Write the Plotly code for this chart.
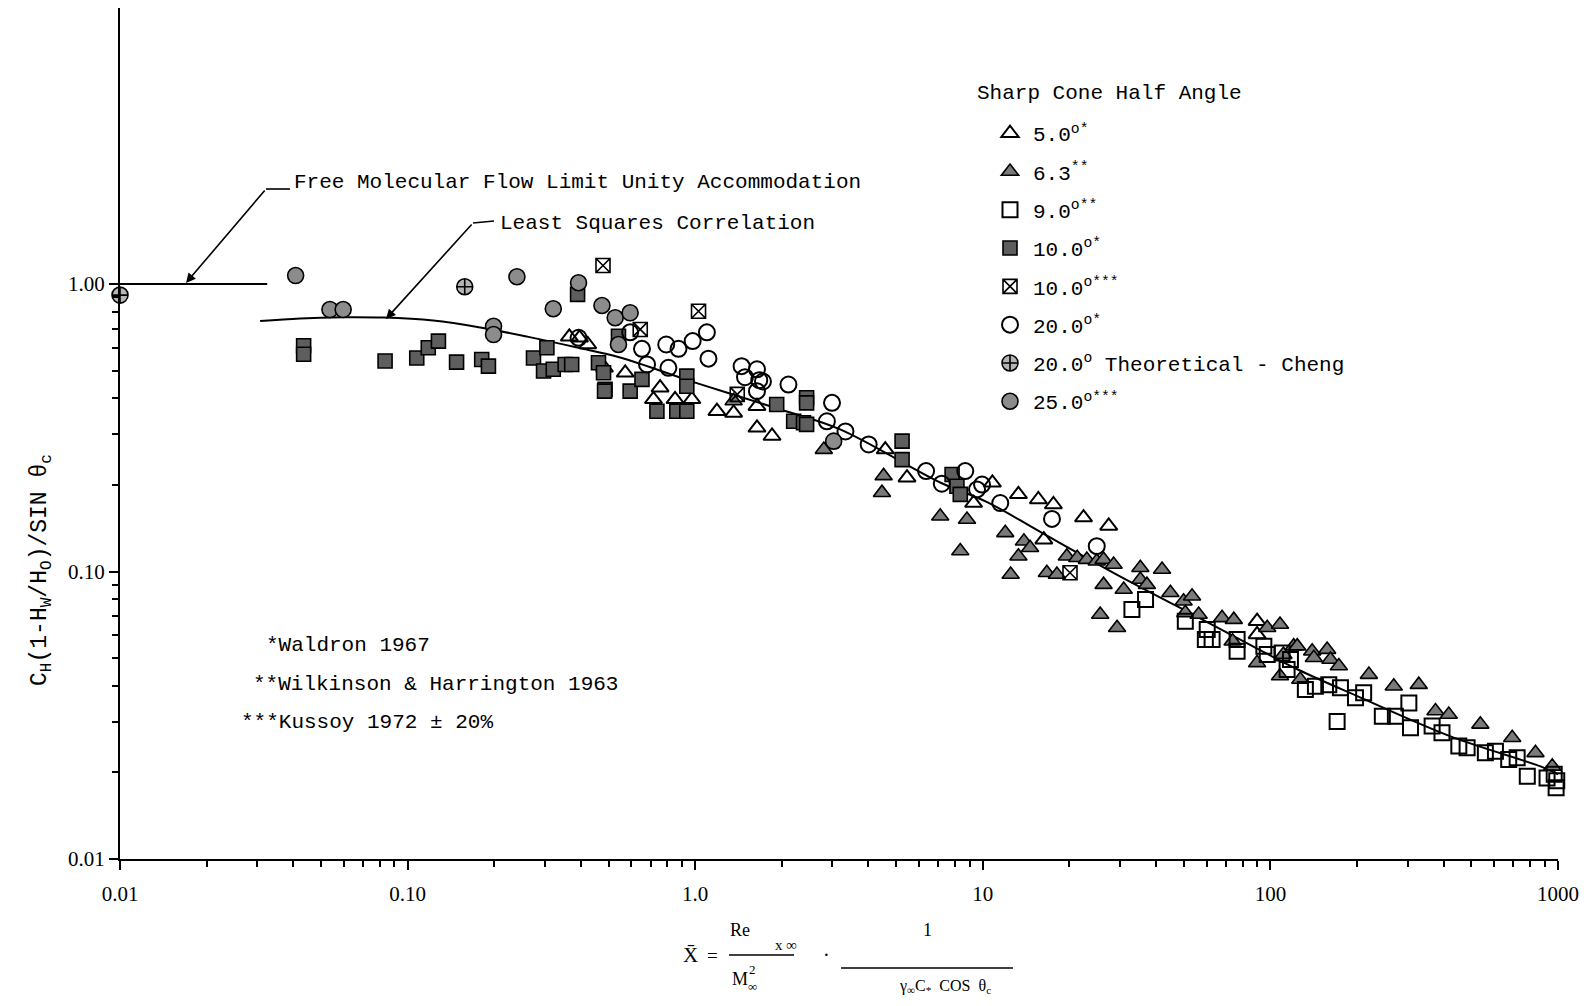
import plotly.graph_objects as go

# ---------------- data ----------------
s5_x = [0.365, 0.396, 0.423, 0.571, 0.755, 0.716, 0.851, 0.974, 1.19, 1.36, 1.64, 1.85, 1.64,
        4.58, 5.45, 10.8, 9.29, 13.3, 15.6, 17.6, 22.4, 27.4, 16.3, 89.9, 89.9]
s5_y = [0.655, 0.65, 0.616, 0.491, 0.436, 0.397, 0.397, 0.397, 0.361, 0.356, 0.316, 0.296, 0.376,
        0.2655, 0.212, 0.2035, 0.173, 0.1855, 0.178, 0.171, 0.154, 0.144, 0.129, 0.0672, 0.0604]

s63_x = [0.484, 1.36, 2.95, 2.80, 4.52, 4.46, 7.11, 8.81, 8.35, 11.97, 13.9, 14.6, 13.3, 12.5,
         19.6, 21.3, 23.0, 24.9, 26.3, 28.5, 35.3, 16.7, 18.1, 42.0, 35.3, 37.2, 26.3, 30.9,
         25.6, 29.3, 44.9, 49.9, 53.4, 50.6, 56.3, 67.9, 74.6, 73.9, 97.5, 108, 89.9, 111,
         120.5, 108, 124, 139.7, 141.6, 157.5, 161.7, 173, 127, 220, 268.5, 328, 375, 417,
         537, 693, 835, 955]
s63_y = [0.511, 0.392, 0.277, 0.2655, 0.215, 0.188, 0.1556, 0.1517, 0.1178, 0.1363, 0.1274, 0.121,
         0.113, 0.0976, 0.113, 0.1116, 0.110, 0.1086, 0.110, 0.1058, 0.103, 0.099, 0.0976, 0.1016,
         0.0938, 0.090, 0.090, 0.0866, 0.0709, 0.0637, 0.0843, 0.0788, 0.082, 0.0718, 0.0709,
         0.069, 0.068, 0.0572, 0.0637, 0.0654, 0.0481, 0.0514, 0.055, 0.0433, 0.055, 0.0528,
         0.0501, 0.0535, 0.0494, 0.0469, 0.0421, 0.0438, 0.0399, 0.0404, 0.0327, 0.0318,
         0.0294, 0.0264, 0.0234, 0.021]

s9_x = [33.0, 36.8, 50.6, 60.3, 62.7, 59.4, 76.6, 76.6, 94.9, 97.5, 109.8, 117.4, 114.3, 132.3,
        143.4, 159.6, 175.2, 170.6, 197.6, 211, 245, 272, 303, 307, 365, 395, 452, 483, 559,
        606, 674, 721, 782, 916, 990, 970, 985]
s9_y = [0.0738, 0.0799, 0.0672, 0.0628, 0.058, 0.058, 0.058, 0.0528, 0.055, 0.0514, 0.0521,
        0.0494, 0.0456, 0.0389, 0.0399, 0.0404, 0.0394, 0.0301, 0.0364, 0.0379, 0.0314, 0.0314,
        0.0349, 0.0286, 0.029, 0.0275, 0.0247, 0.0244, 0.0234, 0.0237, 0.0222, 0.0225, 0.0194,
        0.01915, 0.0187, 0.0197, 0.0177]

s10a_x = [0.0435, 0.0435, 0.0835, 0.1076, 0.118, 0.128, 0.148, 0.181, 0.191, 0.274, 0.305, 0.297,
          0.321, 0.353, 0.372, 0.461, 0.48, 0.486, 0.39, 0.541, 0.484, 0.594, 0.736, 0.863, 0.935,
          0.935, 0.935, 0.653, 1.92, 2.44, 2.44, 2.2, 2.38, 2.44, 5.24, 5.24, 7.82, 8.13, 8.35]
s10a_y = [0.61, 0.57, 0.54, 0.553, 0.60, 0.633, 0.535, 0.546, 0.518, 0.553, 0.60, 0.498, 0.505,
          0.525, 0.525, 0.532, 0.491, 0.43, 0.92, 0.658, 0.424, 0.424, 0.361, 0.361, 0.361,
          0.478, 0.441, 0.466, 0.381, 0.402, 0.386, 0.333, 0.329, 0.325, 0.284, 0.245, 0.2175,
          0.198, 0.1855]

s10b_x = [0.478, 1.027, 0.644, 1.40, 20.1]
s10b_y = [1.16, 0.804, 0.695, 0.413, 0.099]

s20_x = [0.393, 0.594, 0.653, 0.793, 0.875, 0.98, 1.098, 1.112, 0.68, 0.807, 1.45, 1.64, 1.49,
         1.67, 1.72, 1.64, 2.11, 2.99, 2.87, 3.33, 4.01, 6.35, 7.2, 8.69, 9.55, 9.94, 11.5,
         17.4, 24.9]
s20_y = [0.650, 0.679, 0.595, 0.616, 0.595, 0.633, 0.679, 0.55, 0.525, 0.511, 0.518, 0.505,
         0.474, 0.463, 0.458, 0.424, 0.447, 0.386, 0.333, 0.307, 0.2766, 0.2235, 0.202, 0.2235,
         0.193, 0.2006, 0.173, 0.1524, 0.1225]

cheng_x = [0.01, 0.158]
cheng_y = [0.915, 0.978]

s25_x = [0.0408, 0.0537, 0.0597, 0.240, 0.393, 0.321, 0.474, 0.199, 0.199, 0.527, 0.594, 0.541, 3.03]
s25_y = [1.07, 0.815, 0.815, 1.06, 1.01, 0.82, 0.842, 0.713, 0.667, 0.763, 0.794, 0.616, 0.284]

lsq_x = [0.0307, 0.0423, 0.0597, 0.0822, 0.1227, 0.1788, 0.2606, 0.389, 0.548, 1.0, 1.98, 3.19,
         7.11, 10.4, 15.9, 30.1, 47.5, 87.3, 124, 205, 423, 891, 1000]
lsq_y = [0.743, 0.759, 0.766, 0.764, 0.746, 0.706, 0.656, 0.601, 0.555, 0.454, 0.366, 0.312,
         0.204, 0.174, 0.137, 0.096, 0.0756, 0.0548, 0.0457, 0.0365, 0.0267, 0.0208, 0.0197]

fm_x = [0.01, 0.0325]
fm_y = [1.0, 1.0]

x_tickvals = [0.01, 0.1, 1, 10, 100, 1000]
x_ticktext = ["0.01", "0.10", "1.0", "10", "100", "1000"]
y_tickvals = [0.01, 0.1, 1]
y_ticktext = ["0.01", "0.10", "1.00"]

legend_names = ["5.0<sup>o*</sup>", "6.3<sup>**</sup>", "9.0<sup>o**</sup>", "10.0<sup>o*</sup>",
                "10.0<sup>o***</sup>", "20.0<sup>o*</sup>", "20.0<sup>o</sup> Theoretical - Cheng",
                "25.0<sup>o***</sup>"]

# ---------------- layout helpers ----------------
W_FIG, H_FIG = 1593, 1006
L, R, T, B = 120, 35, 8, 147
PW, PH = W_FIG - L - R, H_FIG - T - B


def px(x):
    return (x - L) / PW


def py(y):
    return (H_FIG - B - y) / PH


MONO = "Liberation Mono"
SERIF = "Liberation Serif"

fig = go.Figure()

fig.add_trace(go.Scatter(x=fm_x, y=fm_y, mode="lines", line=dict(color="black", width=2),
                         showlegend=False, hoverinfo="skip", cliponaxis=False))
fig.add_trace(go.Scatter(x=lsq_x, y=lsq_y, mode="lines", line=dict(color="black", width=2, shape="spline"),
                         showlegend=False, hoverinfo="skip"))

series = [
    (s5_x, s5_y, dict(symbol="triangle-up-open", size=15, color="black", line=dict(width=2, color="black"))),
    (s63_x, s63_y, dict(symbol="triangle-up", size=15, color="#7a7a7a", line=dict(width=1.6, color="black"))),
    (s9_x, s9_y, dict(symbol="square-open", size=15, color="black", line=dict(width=2, color="black"))),
    (s10a_x, s10a_y, dict(symbol="square", size=14, color="#5e5e5e", line=dict(width=1.6, color="black"))),
    (s10b_x, s10b_y, dict(symbol="square-x-open", size=14, color="black", line=dict(width=1.6, color="black"))),
    (s20_x, s20_y, dict(symbol="circle-open", size=16, color="black", line=dict(width=2, color="black"))),
    (cheng_x, cheng_y, dict(symbol="circle-cross", size=16, color="#b5b5b5", line=dict(width=1.6, color="black"))),
    (s25_x, s25_y, dict(symbol="circle", size=16, color="#8c8c8c", line=dict(width=1.6, color="black"))),
]
for i, (xs, ys, mk) in enumerate(series):
    fig.add_trace(go.Scatter(x=xs, y=ys, mode="markers", marker=mk, name=legend_names[i],
                             legendgroup="g%d" % i, cliponaxis=False))

axis_common = dict(type="log", showgrid=False, zeroline=False, showline=True, linecolor="black",
                   linewidth=2, ticks="outside", ticklen=9, tickwidth=2, tickcolor="black",
                   tickfont=dict(family=SERIF, size=21, color="black"), mirror=False)

x_minor = [m * 10 ** k for k in range(-2, 3) for m in range(2, 10)]
y_minor = [m * 10 ** k for k in range(-2, 0) for m in range(2, 10)]

fig.update_xaxes(range=[-2, 3.0], tickvals=x_tickvals, ticktext=x_ticktext, ticklabelstandoff=6,
                 minor=dict(tickvals=x_minor, ticks="outside", ticklen=6, tickwidth=1.5, tickcolor="black"),
                 **axis_common)
fig.update_yaxes(range=[-2, 0.96], tickvals=y_tickvals, ticktext=y_ticktext,
                 minor=dict(tickvals=y_minor, ticks="outside", ticklen=6, tickwidth=1.5, tickcolor="black"),
                 **axis_common)

ann = []


def text(x, y, s, size=21, family=MONO, xanchor="left", **kw):
    ann.append(dict(x=px(x), y=py(y), xref="paper", yref="paper", text=s, showarrow=False,
                    xanchor=xanchor, yanchor="middle", font=dict(family=family, size=size, color="black"), **kw))


text(292, 182, "Free Molecular Flow Limit Unity Accommodation")
text(498, 223, "Least Squares Correlation")
text(975, 94, "Sharp Cone Half Angle")
text(264, 645, "*Waldron 1967")
text(251, 684, "**Wilkinson &amp; Harrington 1963")
text(239, 722, "***Kussoy 1972 ± 20%")

# y axis title
text(41, 570, "C<sub>H</sub>(1-H<sub>W</sub>/H<sub>O</sub>)/SIN θ<sub>c</sub>", size=23, xanchor="center",
     textangle=-90)

# x axis title formula
text(690, 955, "X̄", size=21, family=SERIF, xanchor="center")
text(712, 955, "=", size=19, family=SERIF, xanchor="center")
text(740, 930, "Re", size=18, family=SERIF, xanchor="center")
text(786, 945, "x ∞", size=15, family=SERIF, xanchor="center")
text(740, 979, "M", size=18, family=SERIF, xanchor="center")
text(752, 970, "2", size=13, family=SERIF, xanchor="center")
text(752, 986, "∞", size=13, family=SERIF, xanchor="center")
text(826, 955, "·", size=20, family=SERIF, xanchor="center")
text(927, 930, "1", size=18, family=SERIF, xanchor="center")
text(945, 986, "γ<sub>∞</sub>C<sub>*</sub>  COS  θ<sub>c</sub>", size=16, family=SERIF, xanchor="center")

# leader arrows
for hx, hy, tx, ty in [(186, 283, 266, 189), (386, 319, 473, 223)]:
    ann.append(dict(x=px(hx), y=py(hy), xref="paper", yref="paper", ax=tx - hx, ay=ty - hy,
                    text="", showarrow=True, arrowhead=2, arrowsize=1.2, arrowwidth=1.6,
                    arrowcolor="black", standoff=0, startstandoff=0))

shapes = [
    dict(type="line", xref="paper", yref="paper", x0=px(266), y0=py(189), x1=px(290), y1=py(189),
         line=dict(color="black", width=1.6)),
    dict(type="line", xref="paper", yref="paper", x0=px(473), y0=py(223), x1=px(494), y1=py(221),
         line=dict(color="black", width=1.6)),
    dict(type="line", xref="paper", yref="paper", x0=px(729), y0=py(955), x1=px(794), y1=py(955),
         line=dict(color="black", width=1.5)),
    dict(type="line", xref="paper", yref="paper", x0=px(841), y0=py(968), x1=px(1013), y1=py(968),
         line=dict(color="black", width=1.5)),
]

fig.update_layout(
    width=W_FIG, height=H_FIG,
    margin=dict(l=L, r=R, t=T, b=B, pad=0),
    paper_bgcolor="white", plot_bgcolor="white",
    annotations=ann, shapes=shapes,
    showlegend=True,
    legend=dict(x=px(987), y=py(113), xanchor="left", yanchor="top", xref="paper", yref="paper",
                font=dict(family=MONO, size=21, color="black"), bgcolor="rgba(0,0,0,0)",
                tracegroupgap=8, itemsizing="trace", itemwidth=36, traceorder="grouped"),
)

fig.write_html("out.html", config={"displayModeBar": False},
               post_script="document.body.style.margin='0';")
